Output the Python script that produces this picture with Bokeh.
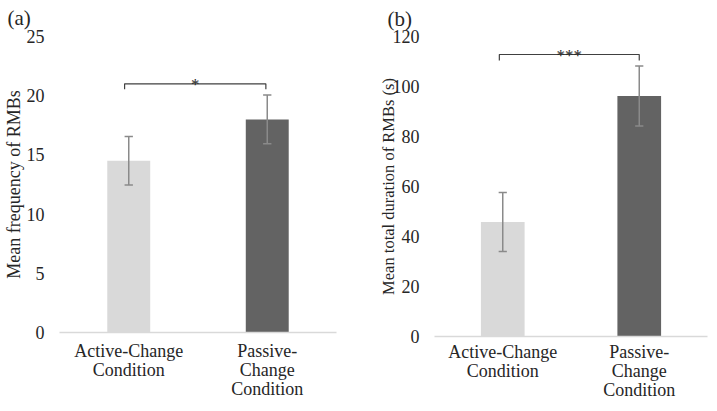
from bokeh.plotting import figure
from bokeh.layouts import row
from bokeh.models import Range1d, FixedTicker, ColumnDataSource
from bokeh.embed import file_html
from bokeh.resources import INLINE
from bokeh.core.properties import value

# ---------------- data ----------------
categories = ["Active-Change\nCondition", "Passive-\nChange\nCondition"]
x_pos = [1, 3]
bar_colors = ["#d9d9d9", "#636363"]

freq_mean = [14.5, 18.0]
freq_err = [2.05, 2.05]
freq_ticks = [0, 5, 10, 15, 20, 25]
freq_sig = "*"
freq_bracket_x = [0.94, 2.98]
freq_bracket_y = [21.0, 20.55]   # bar, tip

dur_mean = [45.8, 96.2]
dur_err = [11.8, 12.0]
dur_ticks = [0, 20, 40, 60, 80, 100, 120]
dur_sig = "***"
dur_bracket_x = [0.95, 3.0]
dur_bracket_y = [112.8, 110.4]

FONT = "Liberation Serif"
TXT = "#262626"


def make_panel(means, errs, ticks, ylabel, plabel, sig, bx, by, fw, fh,
               bl, br, bt, bb, tstand, toff, ysize, ystand, xstand, bw):
    p = figure(frame_width=fw, frame_height=fh, output_backend="svg",
               toolbar_location=None,
               x_range=Range1d(0, 4), y_range=Range1d(ticks[0], ticks[-1]),
               min_border_left=bl, min_border_right=br, min_border_top=bt,
               min_border_bottom=bb, title=plabel)
    p.outline_line_color = None
    p.grid.visible = False
    p.title.text_font = FONT
    p.title.text_font_size = "21px"
    p.title.text_font_style = "normal"
    p.title.text_color = TXT
    p.title.align = "left"
    p.title.offset = toff
    p.title.standoff = tstand
    p.title.vertical_align = "top"

    lo = [m - e for m, e in zip(means, errs)]
    hi = [m + e for m, e in zip(means, errs)]
    cap = 0.06
    src = ColumnDataSource(dict(x=x_pos, top=means, color=bar_colors, lo=lo, hi=hi,
                                cl=[x - cap for x in x_pos], cr=[x + cap for x in x_pos]))
    p.vbar(x="x", top="top", bottom=0, width=bw, fill_color="color",
           line_color=None, source=src)
    p.segment(x0="x", y0="lo", x1="x", y1="hi", line_color="#8a8a8a",
              line_width=1.5, source=src)
    p.segment(x0="cl", y0="lo", x1="cr", y1="lo", line_color="#8a8a8a",
              line_width=1.5, source=src)
    p.segment(x0="cl", y0="hi", x1="cr", y1="hi", line_color="#8a8a8a",
              line_width=1.5, source=src)

    p.line(x=[bx[0], bx[0], bx[1], bx[1]], y=[by[1], by[0], by[0], by[1]],
           line_color="#404040", line_width=1.2)
    p.text(x=[(bx[0] + bx[1]) / 2], y=[by[0]], text=[sig], text_align="center",
           text_baseline="alphabetic", text_font=value(FONT),
           text_font_size="17px", text_color=TXT, y_offset=1)

    ax = p.xaxis[0]
    ax.ticker = FixedTicker(ticks=x_pos)
    ax.major_label_overrides = {x: c for x, c in zip(x_pos, categories)}
    ax.axis_line_color = "#d9d9d9"
    ax.axis_line_width = 1.5
    ax.major_tick_line_color = None
    ax.minor_tick_line_color = None
    ax.major_tick_out = 0
    ax.major_tick_in = 0
    ax.minor_tick_out = 0
    ax.major_label_text_font = FONT
    ax.major_label_text_font_size = "18px"
    ax.major_label_text_color = TXT
    ax.major_label_text_line_height = 0.95
    ax.major_label_standoff = xstand

    ay = p.yaxis[0]
    ay.ticker = FixedTicker(ticks=ticks)
    ay.axis_line_color = None
    ay.major_tick_line_color = None
    ay.minor_tick_line_color = None
    ay.major_tick_out = 0
    ay.major_tick_in = 0
    ay.minor_tick_out = 0
    ay.major_label_text_font = FONT
    ay.major_label_text_font_size = "18px"
    ay.major_label_text_color = TXT
    ay.major_label_standoff = 15
    ay.axis_label = ylabel
    ay.axis_label_text_font = FONT
    ay.axis_label_text_font_size = ysize
    ay.axis_label_text_font_style = "normal"
    ay.axis_label_text_color = TXT
    ay.axis_label_standoff = ystand
    return p


pa = make_panel(freq_mean, freq_err, freq_ticks, "Mean frequency of RMBs", "(a)",
                freq_sig, freq_bracket_x, freq_bracket_y, 277, 296,
                52, 21, 29, 70, 10, -52, "18px", 0, 8, 0.62)
pb = make_panel(dur_mean, dur_err, dur_ticks, "Mean total duration of RMBs (s)", "(b)",
                dur_sig, dur_bracket_x, dur_bracket_y, 273, 300,
                77, 1, 28, 67, 8, -47, "16.5px", -8, 5, 0.64)

layout = row(pa, pb)
open("out.html", "w").write(file_html(layout, INLINE))
